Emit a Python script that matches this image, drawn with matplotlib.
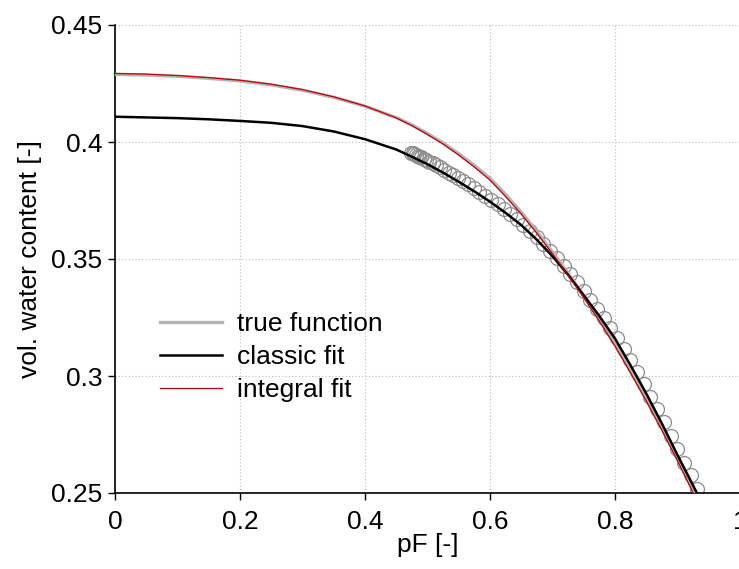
import matplotlib
matplotlib.use("Agg")
import matplotlib.pyplot as plt

plt.rcParams["font.family"] = ["Liberation Sans", "DejaVu Sans"]

# curves (pF, theta)
true_pf = [0.0, 0.05, 0.1, 0.15, 0.2, 0.25, 0.3, 0.35, 0.4, 0.45, 0.475,
           0.5, 0.525, 0.55, 0.575, 0.6, 0.625, 0.65, 0.675, 0.7, 0.725,
           0.75, 0.775, 0.8, 0.825, 0.85, 0.875, 0.9, 0.927]
true_theta = [0.4289, 0.4286, 0.4281, 0.4272, 0.4261, 0.4244, 0.4221, 0.4191,
              0.4153, 0.4104, 0.4073, 0.4036, 0.3996, 0.3950, 0.3900, 0.3845,
              0.3776, 0.3700, 0.3618, 0.3530, 0.3438, 0.3342, 0.3241, 0.3135,
              0.3020, 0.2900, 0.2775, 0.2645, 0.2500]

classic_pf = [0.0, 0.05, 0.1, 0.15, 0.2, 0.25, 0.3, 0.35, 0.4, 0.45, 0.475,
              0.5, 0.525, 0.55, 0.575, 0.6, 0.625, 0.65, 0.675, 0.7, 0.725,
              0.75, 0.775, 0.8, 0.825, 0.85, 0.875, 0.9, 0.925, 0.931]
classic_theta = [0.4108, 0.4105, 0.4102, 0.4097, 0.4090, 0.4082, 0.4068,
                 0.4045, 0.4012, 0.3968, 0.3937, 0.3905, 0.3869, 0.3830,
                 0.3789, 0.3745, 0.3697, 0.3645, 0.3582, 0.3512, 0.3432,
                 0.3345, 0.3256, 0.3160, 0.3045, 0.2925, 0.2797, 0.2662,
                 0.2532, 0.2500]

integral_pf = [0.0, 0.05, 0.1, 0.15, 0.2, 0.25, 0.3, 0.35, 0.4, 0.45, 0.475,
               0.5, 0.525, 0.55, 0.575, 0.6, 0.625, 0.65, 0.675, 0.7, 0.725,
               0.75, 0.775, 0.8, 0.825, 0.85, 0.875, 0.9, 0.925]
integral_theta = [0.4293, 0.4290, 0.4284, 0.4275, 0.4264, 0.4247, 0.4224,
                  0.4193, 0.4154, 0.4103, 0.4070, 0.4032, 0.3991, 0.3944,
                  0.3893, 0.3837, 0.3767, 0.3692, 0.3610, 0.3522, 0.3430,
                  0.3335, 0.3234, 0.3128, 0.3013, 0.2893, 0.2768, 0.2638,
                  0.2500]

# measured points
obs_pf = [0.474, 0.4765, 0.479, 0.4815, 0.484, 0.487, 0.490, 0.494, 0.498,
          0.503, 0.508, 0.514, 0.520, 0.527, 0.534, 0.541, 0.549, 0.557,
          0.565, 0.574, 0.583, 0.592, 0.602, 0.612, 0.622, 0.632, 0.6427,
          0.6534, 0.6641, 0.6748, 0.6855, 0.6962, 0.7069, 0.7176, 0.7283,
          0.7390, 0.7497, 0.7604, 0.7711, 0.7818, 0.7925, 0.8032, 0.8139,
          0.8246, 0.8353, 0.8460, 0.8567, 0.8674, 0.8781, 0.8888, 0.8995,
          0.9102, 0.9209, 0.9316]
obs_theta = [0.3953, 0.3951, 0.3948, 0.3945, 0.3942, 0.3938, 0.3934, 0.3929,
             0.3923, 0.3916, 0.3909, 0.3900, 0.3892, 0.3880, 0.3869, 0.3858,
             0.3845, 0.3832, 0.3819, 0.3803, 0.3787, 0.3771, 0.3752, 0.3733,
             0.3714, 0.3692, 0.3670, 0.3646, 0.3619, 0.3593, 0.3563, 0.3535,
             0.3503, 0.3469, 0.3436, 0.3400, 0.3362, 0.3326, 0.3287, 0.3248,
             0.3207, 0.3164, 0.3115, 0.3067, 0.3016, 0.2964, 0.2911, 0.2857,
             0.2802, 0.2744, 0.2687, 0.2630, 0.2575, 0.2519]

x_ticks = [0, 0.2, 0.4, 0.6, 0.8, 1]
x_labels = ["0", "0.2", "0.4", "0.6", "0.8", "1"]
y_ticks = [0.25, 0.3, 0.35, 0.4, 0.45]
y_labels = ["0.25", "0.3", "0.35", "0.4", "0.45"]

fig = plt.figure(figsize=(7.39, 5.69), dpi=100)
ax = fig.add_axes([115 / 739, 76 / 569, 625 / 739, 468 / 569])

ax.plot(obs_pf, obs_theta, linestyle="none", marker="o", markersize=10,
        markerfacecolor="none", markeredgecolor="#8c8c8c", markeredgewidth=0.9,
        zorder=2)
ax.plot(true_pf, true_theta, color="#b4b4b4", lw=2.4, label="true function", zorder=3)
ax.plot(classic_pf, classic_theta, color="black", lw=1.8, label="classic fit", zorder=4)
ax.plot(integral_pf, integral_theta, color="#c00000", lw=0.9, label="integral fit", zorder=5)

ax.set_xlim(0, 1)
ax.set_ylim(0.25, 0.45)
ax.set_xticks(x_ticks)
ax.set_xticklabels(x_labels)
ax.set_yticks(y_ticks)
ax.set_yticklabels(y_labels)
ax.tick_params(labelsize=19, direction="out", length=5, width=1)
ax.tick_params(axis="x", pad=7)
ax.tick_params(axis="y", pad=4)

ax.grid(True, color="#bdbdbd", linestyle=(0, (1, 2)), linewidth=0.8)
ax.set_axisbelow(True)
for side in ["top", "right"]:
    ax.spines[side].set_visible(False)
for side in ["left", "bottom"]:
    ax.spines[side].set_linewidth(1.2)

ax.set_xlabel("pF [-]", fontsize=19)
ax.set_ylabel("vol. water content [-]", fontsize=19)
ax.xaxis.set_label_coords(0.5, -0.085)
ax.yaxis.set_label_coords(-0.117, 0.5)

ax.legend(loc="upper left", bbox_to_anchor=(0.072, 0.387), frameon=False,
          fontsize=19, handlelength=2.35, handletextpad=0.57, labelspacing=0.35,
          borderpad=0, borderaxespad=0)

fig.savefig("out.png", dpi=100)
